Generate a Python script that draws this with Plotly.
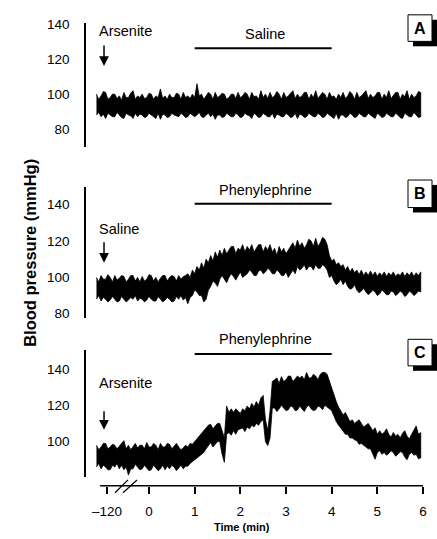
import plotly.graph_objects as go

W, H = 437, 539
FONT = "Liberation Sans, Arial, Helvetica, sans-serif"

# ---------------- data ----------------
# Traces are sampled every 0.05 min from -1.15 to 5.95 (the part left of 0 is the
# pre-injection segment before the axis break; the "-120" tick sits at -0.92).
N_SAMPLES = 143
T_START, T_STEP = -1.15, 0.05

# Panel A: arsenite, then saline - upper / lower envelope of the trace (mmHg)
hi_A = [100, 97, 99, 101.5, 101, 97, 98, 100, 100, 97.5,
        99, 96.5, 101, 98, 98, 100.5, 102, 97, 99, 98,
        100, 97.5, 98, 100.5, 100, 97, 99, 98, 103, 97.5,
        99, 97, 100, 98, 98, 100.5, 100, 97, 101, 98,
        99, 97.5, 100, 98, 106, 99, 100, 97, 99, 101,
        100, 97, 101, 98, 99, 100.5, 100, 97, 98, 100,
        100, 97.5, 101, 98, 99, 101, 100, 97, 101, 98.5,
        99, 97, 102, 98, 100, 97.5, 101, 98, 99, 101.5,
        100, 97, 101, 98, 99, 100.5, 102, 97.5, 100, 98,
        99, 101, 101, 97, 100, 98, 102, 97.5, 99, 101,
        100, 97, 101, 98.5, 99, 97, 100, 98, 101, 97.5,
        99, 101.5, 100, 97, 101, 98, 99, 100.5, 102, 97.5,
        100, 98, 99, 101, 101, 97, 100, 98, 102, 97.5,
        99, 101, 101, 97, 100, 98.5, 102, 97, 100, 98,
        99, 101.5, 101]
lo_A = [88, 89.5, 87, 88.5, 86, 89, 88, 87, 87, 89.5,
        88, 86.5, 86, 89, 88, 87.5, 86, 89, 87, 88.5,
        88, 86.5, 87, 89, 88, 87, 86, 89, 85.5, 88.5,
        88, 86.5, 87, 89, 88, 87.5, 87, 89, 88, 86.5,
        87, 89, 88, 87, 88, 89.5, 87, 86.5, 88, 89,
        87, 88.5, 85.5, 88, 88, 86.5, 87, 89, 88, 87,
        87, 89, 88, 86.5, 87, 89, 88, 87.5, 86, 89,
        88, 86.5, 87, 89, 88, 87, 87, 89, 86, 88.5,
        88, 87, 87, 89, 88, 86.5, 87, 89, 86, 88.5,
        88, 86.5, 87, 89, 88, 87, 87, 89, 88, 86.5,
        87, 89, 88, 87, 86, 89, 85.5, 88, 88, 86.5,
        87, 89, 88, 86.5, 87, 89, 88, 87, 87, 89,
        88, 87, 86, 89, 88, 86.5, 87, 89, 88, 87,
        87, 89, 88, 86.5, 86, 89, 88, 87, 87, 89.5,
        88, 86.5, 87]

# Panel B: saline, then phenylephrine
hi_B = [100, 97.5, 101, 99, 99, 101.5, 100, 97.5, 101, 98.5,
        99.5, 101, 100.5, 97.5, 99, 101, 101, 98, 100, 97.5,
        100.5, 98, 99, 101.5, 101, 98, 100, 97.5, 99.5, 101,
        101, 98, 100, 101, 100.5, 98, 101, 99, 100.5, 101,
        102, 100, 104, 102, 106, 104, 108, 105, 110, 108,
        112, 109, 114, 111, 115, 112, 116, 113, 115, 117,
        117, 113, 116, 115, 118, 114, 117, 115, 118, 114,
        116, 118, 118, 114, 117, 115, 118, 114, 116, 112,
        117, 114, 116, 113, 115, 117, 119, 116, 120.5, 117,
        119, 116, 118, 121, 120, 117, 121.5, 117, 119, 122,
        121, 118, 112, 109, 110, 107, 108, 106, 107, 104,
        106, 103, 105, 102.5, 104, 101.5, 104, 101, 103, 101,
        103.5, 101, 103, 100.5, 102.5, 101, 103, 100.5, 102.5, 101,
        103, 100.5, 102, 101, 103, 100.5, 102.5, 101, 103, 100.5,
        102.5, 101, 103]
lo_B = [88, 90, 87, 89, 88, 86.5, 87.5, 89.5, 88, 86.5,
        87, 89.5, 88, 86.5, 87.5, 89, 88, 90, 87, 88.5,
        88, 86.5, 87.5, 89.5, 88, 87, 87, 89.5, 88, 86.5,
        87.5, 89, 88, 86.5, 87, 89.5, 88, 90, 87.5, 89,
        85.5, 89, 90, 93, 92, 90, 90, 86.5, 88, 93,
        95, 98, 97, 95, 99, 101, 99, 97, 100, 102,
        100.5, 98.5, 101, 103, 100, 101, 102, 104, 103, 101,
        101, 103.5, 104, 102, 103, 105, 104, 102, 102, 104,
        103, 101, 101, 103, 100, 102, 104, 102, 106, 104,
        105, 107, 104, 106, 106, 104, 107, 105, 105, 107,
        106, 104, 100, 101, 98, 96, 97, 99, 96, 98,
        95, 93.5, 94, 96, 93, 91.5, 92.5, 94, 92, 90.5,
        91.5, 93, 92, 90, 91, 93, 92, 90.5, 90.5, 92.5,
        92, 90, 91, 92.5, 91.5, 89.5, 90.5, 92.5, 91.5, 90,
        91, 92.5, 92]

# Panel C: arsenite, then phenylephrine
hi_C = [98, 95.5, 97, 99, 99, 96, 97, 98.5, 98, 96,
        97.5, 99, 100.5, 96, 98, 95.5, 97, 99, 96.5, 98,
        98, 96, 99.5, 97, 97, 99, 98, 95.5, 99, 97,
        97, 99, 98.5, 96, 97.5, 99, 97, 95.5, 96.5, 98,
        97, 99, 98.5, 100, 101, 103, 104, 106, 107, 109,
        109.5, 107, 108.5, 110, 110, 106, 102, 119.5, 116, 118,
        116, 118, 117, 115.5, 118, 117, 119.5, 118, 121, 119,
        122, 120, 124, 125.4, 112, 106, 116.7, 133, 134, 135,
        132, 135.7, 133, 134, 136, 136, 133, 134.6, 136, 135,
        136, 134, 138, 135, 135, 137, 136, 134, 137, 138,
        138, 137, 133, 129, 125, 122, 119, 117, 114.6, 116,
        113, 111, 112, 110, 111, 112, 110, 108, 109, 110,
        108, 106, 107.6, 104, 106, 104, 105, 107, 104, 102.5,
        105, 103, 104, 102, 104.5, 106, 103, 101.5, 104, 106,
        108.6, 104, 105]
lo_C = [86, 88, 85, 87, 86, 84.5, 84.5, 87, 86, 88,
        85, 87, 84.5, 86, 81.6, 85, 85, 87.5, 86, 84.5,
        85, 87, 85.5, 84, 84.5, 87, 85.5, 84, 85, 87,
        84.5, 86.5, 85, 87, 86, 84, 85.5, 87, 85, 86.5,
        86.5, 88, 89, 90, 91, 92.5, 93, 94, 96, 98,
        99.5, 97, 98.5, 100, 100, 93, 88.6, 104, 105, 103.5,
        106, 104, 106.5, 107, 107.5, 105.5, 108, 107, 109, 108,
        110, 109, 111, 112, 100, 97.8, 102, 118.4, 118.5, 116.5,
        118, 120, 118.4, 117, 117.5, 119.5, 119, 117, 117.3, 119.5,
        118, 116.5, 119, 120, 118, 117, 117.5, 119.5, 119, 117.5,
        120, 119, 118, 117, 114, 111, 109, 107.5, 106, 104,
        104, 102, 102, 101, 100.5, 98.5, 99, 97.5, 97, 96,
        96, 93.5, 90.3, 94, 95, 93, 94, 92.5, 93.5, 95,
        94, 92, 93, 94.5, 94, 91.5, 90, 93, 94, 92.5,
        93, 90.5, 91]

t_samples = [round(T_START + T_STEP * i, 2) for i in range(N_SAMPLES)]

x_tickvals = [-0.92, 0, 1, 2, 3, 4, 5, 6]
x_ticktext = ["\u2013120", "0", "1", "2", "3", "4", "5", "6"]
y_tickvals = [80, 100, 120, 140]
y_ticktext = ["80", "100", "120", "140"]

panel_labels = ["A", "B", "C"]
bar_labels = ["Saline", "Phenylephrine", "Phenylephrine"]
arrow_labels = ["Arsenite", "Saline", "Arsenite"]
bar_start, bar_end = 1, 4

# ---------------- figure ----------------
def py(p):          # pixel row -> paper y
    return 1 - p / H

def px(p):          # pixel column -> paper x
    return p / W

fig = go.Figure()
for hi, lo, ya in [(hi_A, lo_A, "y"), (hi_B, lo_B, "y2"), (hi_C, lo_C, "y3")]:
    n = min(len(hi), len(lo), N_SAMPLES)
    t = t_samples[:n]
    fig.add_trace(go.Scatter(
        x=t + t[::-1], y=list(hi[:n]) + list(lo[:n])[::-1],
        fill="toself", fillcolor="black", mode="lines",
        line=dict(color="black", width=0.8), yaxis=ya, xaxis="x",
        hoverinfo="skip", showlegend=False))

yax = dict(showline=True, linecolor="black", linewidth=1.5, ticks="",
           tickvals=y_tickvals, ticktext=y_ticktext, showgrid=False, zeroline=False,
           anchor="x", ticklabelstandoff=12,
           tickfont=dict(family=FONT, size=13.5, color="black"))

fig.update_layout(
    width=W, height=H, margin=dict(l=0, r=0, t=0, b=0),
    paper_bgcolor="white", plot_bgcolor="rgba(0,0,0,0)",
    showlegend=False,
    xaxis=dict(domain=[86 / W, 1], range=[-1.3795, 6.306], anchor="free",
               position=py(489), showline=False, showgrid=False, zeroline=False,
               ticks="outside", ticklen=7, tickwidth=1.5, tickcolor="black",
               tickvals=x_tickvals, ticktext=x_ticktext, ticklabelstandoff=6,
               tickfont=dict(family=FONT, size=13.5, color="black")),
    yaxis=dict(yax, domain=[py(144), py(18)], range=[69.81, 141.13]),
    yaxis2=dict(yax, domain=[py(318), py(185)], range=[77.84, 149.73]),
    yaxis3=dict(yax, domain=[py(480), py(351)], range=[80.54, 150.27]),
)

shapes = []
ann = []

# x-axis line and break marks
shapes.append(dict(type="line", xref="x", yref="paper", x0=-1.07, x1=6.0,
                   y0=py(489), y1=py(489), line=dict(color="black", width=1.5)))
for xa, xb in [(-0.744, -0.46), (-0.569, -0.263)]:
    shapes.append(dict(type="line", xref="x", yref="paper", x0=xa, x1=xb,
                       y0=py(496), y1=py(483), line=dict(color="black", width=1.2)))

# treatment bars (1 to 4 min) and labels
yrefs = ["y", "y2", "y3"]
bar_y = [126.4, 140.5, 148.1]
bar_text_py = [30, 188, 340]
for i in range(3):
    shapes.append(dict(type="line", xref="x", yref=yrefs[i], x0=bar_start, x1=bar_end,
                       y0=bar_y[i], y1=bar_y[i], line=dict(color="black", width=2)))
    ann.append(dict(x=2.55, y=py(bar_text_py[i]), xref="x", yref="paper", text=bar_labels[i],
                    showarrow=False, xanchor="center", yanchor="middle",
                    font=dict(family=FONT, size=14.5, color="black")))

# injection arrows
arrow_text_py = [26, 228, 384]
arrow_head_y = [116.2, 108.1, 106.5]
arrow_len = [22, 22, 20]
for i in range(3):
    ann.append(dict(x=-1.14, y=py(arrow_text_py[i]), xref="x", yref="paper", text=arrow_labels[i],
                    showarrow=False, xanchor="left", yanchor="middle",
                    font=dict(family=FONT, size=14.5, color="black")))
    ann.append(dict(x=-0.985, y=arrow_head_y[i], xref="x", yref=yrefs[i], text="",
                    showarrow=True, ax=0, ay=-arrow_len[i], arrowhead=2, arrowsize=1.3,
                    arrowwidth=1.5, arrowcolor="black"))

# panel letter boxes with drop shadow
boxes = [(408, 432, 10, 37), (408, 432, 178, 206), (408, 432, 340, 367)]
for (x0, x1, y0, y1), lab in zip(boxes, panel_labels):
    shapes.append(dict(type="rect", xref="paper", yref="paper",
                       x0=px(x0 + 5), x1=px(x1 + 5), y0=py(y1 + 5), y1=py(y0 + 5),
                       fillcolor="black", line=dict(width=0)))
    shapes.append(dict(type="rect", xref="paper", yref="paper",
                       x0=px(x0), x1=px(x1), y0=py(y1), y1=py(y0),
                       fillcolor="white", line=dict(color="black", width=1)))
    ann.append(dict(x=px((x0 + x1) / 2), y=py((y0 + y1) / 2), xref="paper", yref="paper",
                    text="<b>%s</b>" % lab, showarrow=False, xanchor="center", yanchor="middle",
                    font=dict(family=FONT, size=16, color="black")))

# axis titles
ann.append(dict(x=px(30), y=py(252), xref="paper", yref="paper",
                text="<b>Blood pressure (mmHg)</b>", textangle=-90, showarrow=False,
                xanchor="center", yanchor="middle",
                font=dict(family=FONT, size=16.5, color="black")))
ann.append(dict(x=px(242), y=py(531), xref="paper", yref="paper",
                text="<b>Time (min)</b>", showarrow=False,
                xanchor="center", yanchor="middle",
                font=dict(family=FONT, size=11, color="black")))

fig.update_layout(shapes=shapes, annotations=ann)
fig.write_html("out.html")
